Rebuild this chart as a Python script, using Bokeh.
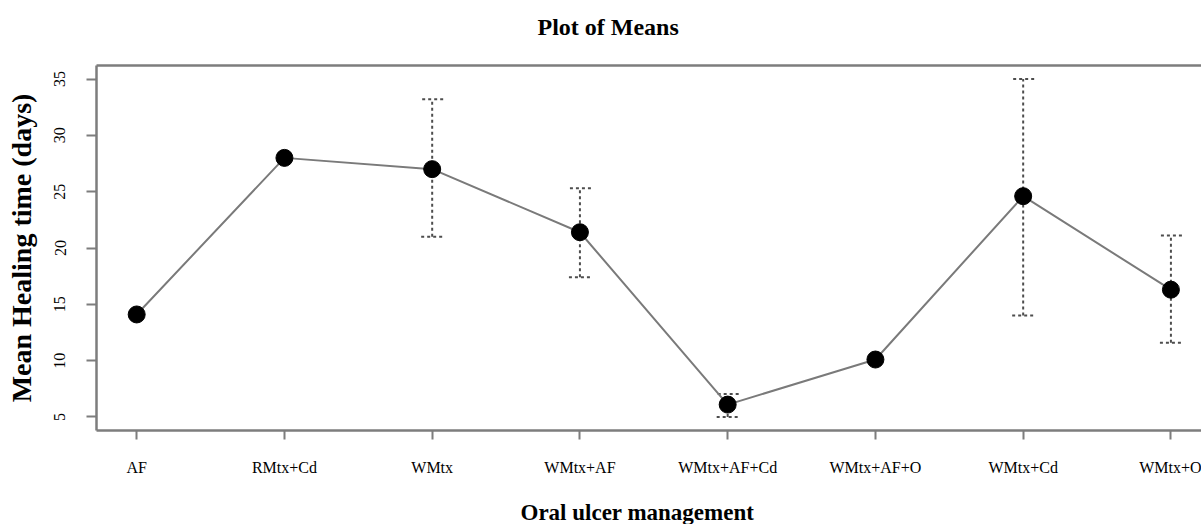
from bokeh.plotting import figure
from bokeh.models import (ColumnDataSource, Whisker, TeeHead, FixedTicker,
                          LinearAxis, Range1d, Title)
from bokeh.embed import file_html
from bokeh.resources import INLINE

# ---- data ----
groups = ["AF", "RMtx+Cd", "WMtx", "WMtx+AF", "WMtx+AF+Cd",
          "WMtx+AF+O", "WMtx+Cd", "WMtx+O"]
means = [14.1, 28.0, 27.0, 21.4, 6.1, 10.1, 24.6, 16.3]
err_lower = [None, None, 21.0, 17.4, 5.0, None, 14.0, 11.6]
err_upper = [None, None, 33.2, 25.3, 7.05, None, 35.0, 21.1]
y_ticks = [5, 10, 15, 20, 25, 30, 35]

title_text = "Plot of Means"
x_title = "Oral ulcer management"
y_title = "Mean Healing time (days)"

SERIF = "Liberation Serif"
AXIS_GRAY = "#7d7d7d"

x_pos = list(range(1, len(groups) + 1))

p = figure(width=1201, height=524, output_backend="svg", toolbar_location=None,
           x_range=Range1d(0.728, 8.207), y_range=Range1d(3.8, 36.2),
           min_border_left=96, min_border_right=0,
           min_border_top=65, min_border_bottom=94)

p.background_fill_color = "white"
p.border_fill_color = "white"
p.outline_line_color = None
p.xgrid.visible = False
p.ygrid.visible = False

# y axis
ya = p.left[0]
ya.ticker = FixedTicker(ticks=y_ticks)
ya.major_label_orientation = "vertical"
ya.axis_line_color = AXIS_GRAY
ya.axis_line_width = 2.5
ya.major_tick_line_color = AXIS_GRAY
ya.major_tick_line_width = 2
ya.major_tick_out = 10
ya.major_tick_in = 0
ya.minor_tick_line_color = None
ya.major_label_standoff = 21
ya.major_label_text_font = SERIF
ya.major_label_text_font_size = "16px"
ya.major_label_text_color = "black"
ya.axis_label = y_title
ya.axis_label_text_font = SERIF
ya.axis_label_text_font_size = "28px"
ya.axis_label_text_font_style = "bold"
ya.axis_label_text_color = "black"
ya.axis_label_standoff = 15

# x axis (bottom)
xa = p.below[0]
xa.ticker = FixedTicker(ticks=x_pos)
xa.major_label_overrides = {xv: g for xv, g in zip(x_pos, groups)}
xa.axis_line_color = AXIS_GRAY
xa.axis_line_width = 2.5
xa.major_tick_line_color = AXIS_GRAY
xa.major_tick_line_width = 2
xa.major_tick_out = 9
xa.major_tick_in = 0
xa.minor_tick_line_color = None
xa.major_label_standoff = 19
xa.major_label_text_font = SERIF
xa.major_label_text_font_size = "16px"
xa.major_label_text_color = "black"


def spacer_axis(gap, line_color=None):
    # an axis with one white (invisible) tick, used only to reserve space
    return LinearAxis(ticker=FixedTicker(ticks=[x_pos[0]]),
                      axis_line_color=line_color, axis_line_width=2.5,
                      major_tick_line_color="white", major_tick_line_width=1,
                      minor_tick_line_color=None,
                      major_label_text_font_size="0px",
                      major_label_text_alpha=0,
                      major_label_standoff=0, major_tick_out=gap,
                      major_tick_in=-4)


# top border line (empty axis) that also leaves room below the title
p.add_layout(spacer_axis(26, AXIS_GRAY), "above")
p.title.text = title_text
p.title.align = "left"
p.title.offset = 441
p.title.text_font = SERIF
p.title.text_font_size = "24px"
p.title.text_font_style = "bold"
p.title.text_color = "black"
p.title.standoff = 0

# spacer then x-axis title
p.add_layout(spacer_axis(19), "below")
xt = Title(text=x_title, align="left", offset=424, text_font=SERIF,
           text_font_size="23px", text_font_style="bold", text_color="black",
           standoff=0)
p.add_layout(xt, "below")

# mean line
p.line(x_pos, means, line_color="#7a7a7a", line_width=2)

# error bars
eb_x = [xv for xv, lo in zip(x_pos, err_lower) if lo is not None]
eb_lo = [lo for lo in err_lower if lo is not None]
eb_hi = [hi for hi in err_upper if hi is not None]
eb_src = ColumnDataSource(dict(base=eb_x, lower=eb_lo, upper=eb_hi))
ERR_COLOR = "#4d4d4d"
wh = Whisker(source=eb_src, base="base", lower="lower", upper="upper",
             dimension="height", line_color=ERR_COLOR, line_width=2,
             line_dash="3 3",
             upper_head=TeeHead(size=22, line_color=ERR_COLOR, line_width=2,
                                line_dash="3 3"),
             lower_head=TeeHead(size=22, line_color=ERR_COLOR, line_width=2,
                                line_dash="3 3"))
p.add_layout(wh)

# points
p.scatter(x_pos, means, size=17, fill_color="black", line_color="black")

open("out.html", "w").write(file_html(p, INLINE))
